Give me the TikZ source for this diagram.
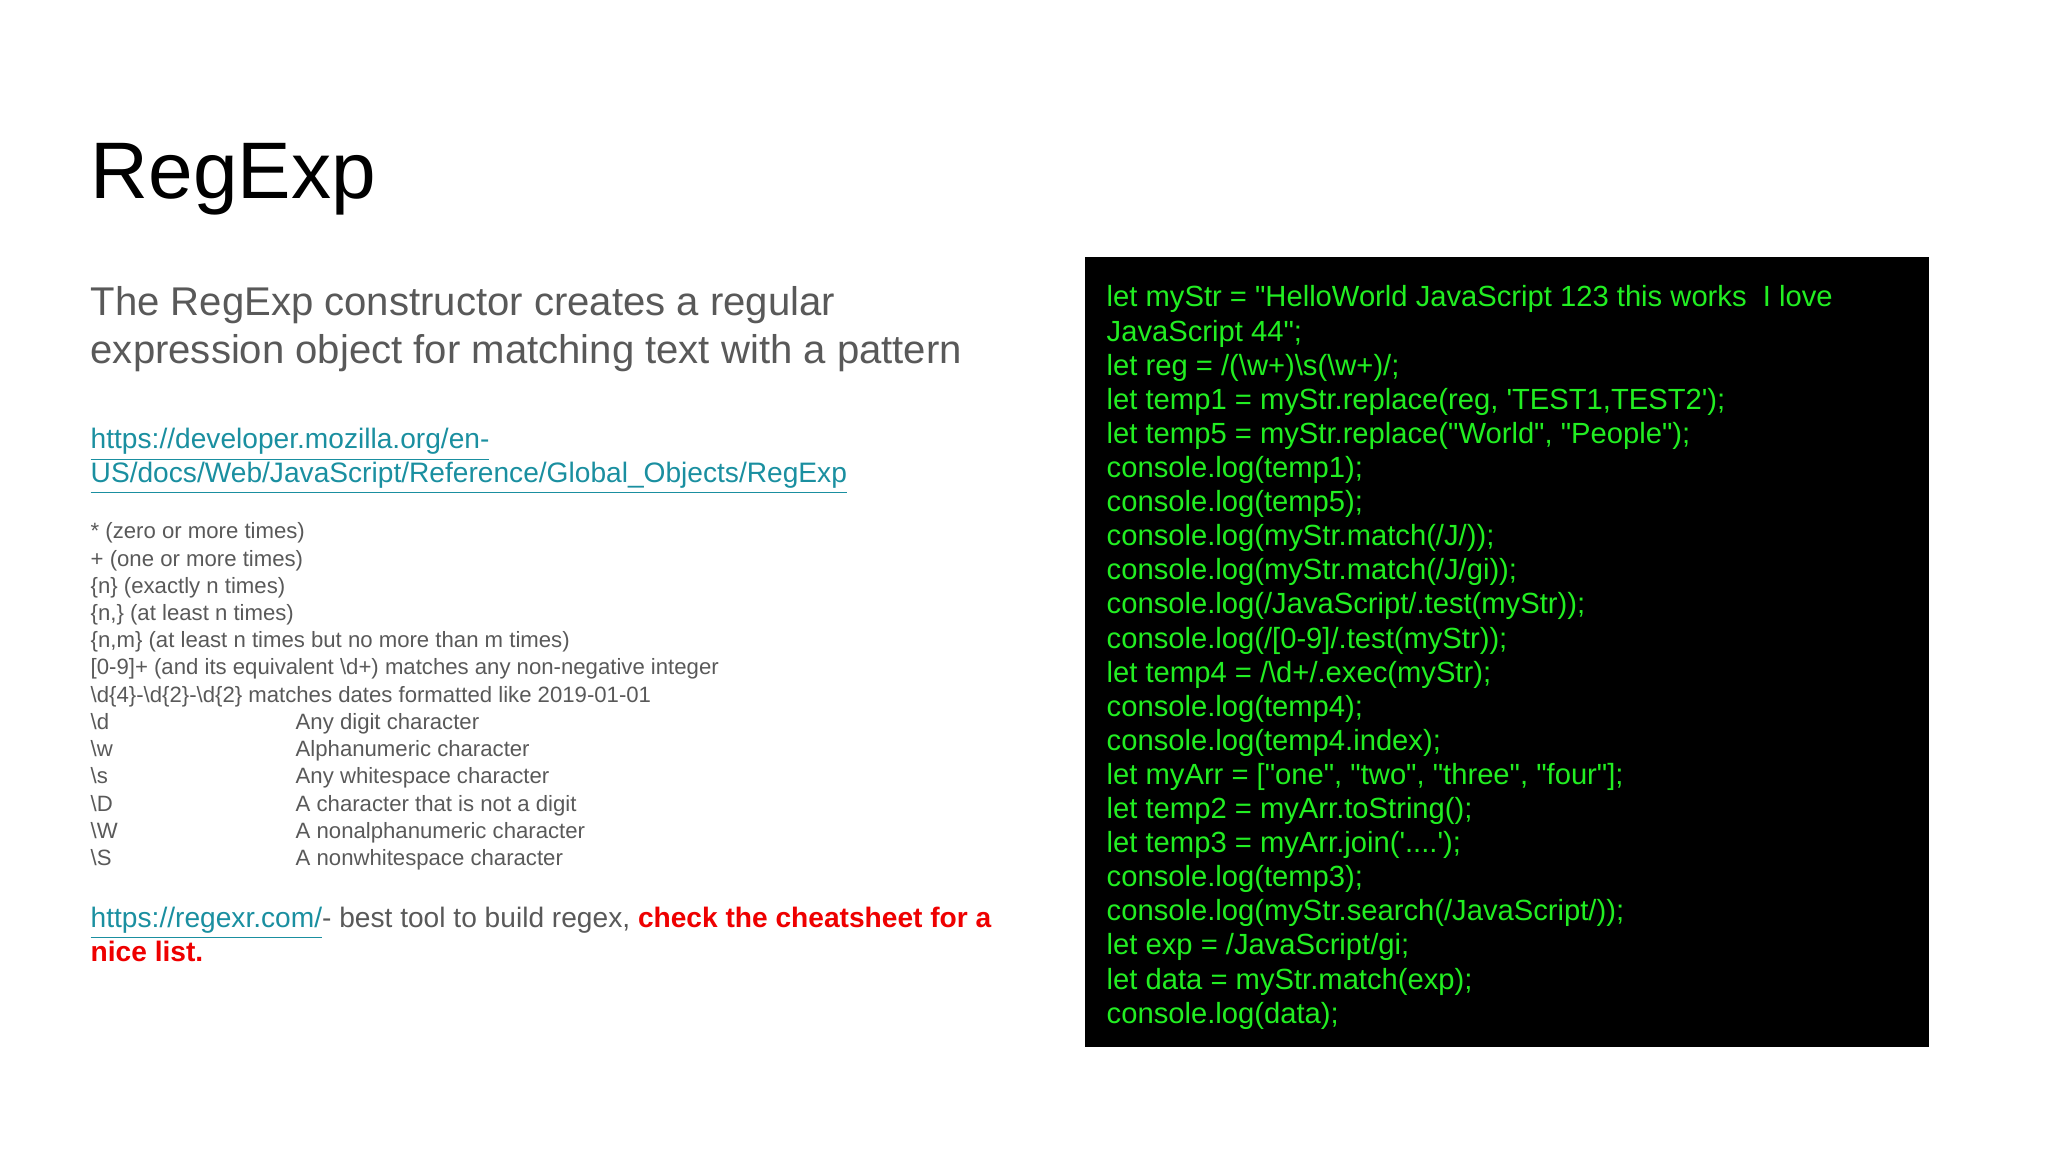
\documentclass[tikz,border=0pt]{standalone}
\usepackage{fontspec}
\newfontfamily\af{Liberation Sans}
\definecolor{gtxt}{HTML}{595959}
\definecolor{lnk}{HTML}{1A8FA0}
\definecolor{cg}{HTML}{22EE22}
\begin{document}
\begin{tikzpicture}[x=0.01cm,y=-0.01cm,
  t/.style={anchor=base west,inner sep=0pt,font=\af},
  lst/.style={t,text=gtxt,font=\af\fontsize{6.3}{7}\selectfont},
  cd/.style={t,text=cg,font=\af\fontsize{8.3}{9}\selectfont},
  lk/.style={t,text=lnk,font=\af\fontsize{8}{9}\selectfont}]
\useasboundingbox (0,0) rectangle (2048,1152);
\node[t,font=\af\fontsize{22.8}{26}\selectfont] (title) at (90,199) {RegExp};
\node[t,text=gtxt,font=\af\fontsize{11.4}{13}\selectfont] (s1) at (90,316) {The RegExp constructor creates a regular};
\node[t,text=gtxt,font=\af\fontsize{11.4}{13}\selectfont] (s2) at (90,364) {expression object for matching text with a pattern};
\node[lk] (l1) at (90,449) {\underline{https://developer.mozilla.org/en-}};
\node[lk] (l2) at (90,482) {\underline{US/docs/Web/JavaScript/Reference/Global\_Objects/RegExp}};
\foreach \i/\s in {0/{* (zero or more times)},1/{+ (one or more times)},2/{\{n\} (exactly n times)},3/{\{n,\} (at least n times)},4/{\{n,m\} (at least n times but no more than m times)},5/{[0-9]+ (and its equivalent \textbackslash d+) matches any non-negative integer},6/{\textbackslash d\{4\}-\textbackslash d\{2\}-\textbackslash d\{2\} matches dates formatted like 2019-01-01}}
  \node[lst] (a\i) at (90,{539+\i*27.2}) {\s};
\foreach \i/\k/\s in {7/d/{Any digit character},8/w/{Alphanumeric character},9/s/{Any whitespace character},10/D/{A character that is not a digit},11/W/{A nonalphanumeric character},12/S/{A nonwhitespace character}}{
  \node[lst] (a\i) at (90,{539+\i*27.2}) {\textbackslash \k};
  \node[lst] (b\i) at (295,{539+\i*27.2}) {\s};}
\node[lk] (r1) at (90,927) {\underline{https://regexr.com/}\textcolor{gtxt}{ - best tool to build regex, }\textcolor[HTML]{EE0000}{\bfseries check the cheatsheet for a}};
\node[t,text={rgb,255:red,238;green,0;blue,0},font=\af\bfseries\fontsize{8}{9}\selectfont] (r2) at (90,961) {nice list.};
\fill[black] (1085,257) rectangle (1929,1047);
\foreach \i/\s in {0/{let myStr = "HelloWorld JavaScript 123 this works~ I love},1/{JavaScript 44";},2/{let reg = /(\textbackslash w+)\textbackslash s(\textbackslash w+)/;},3/{let temp1 = myStr.replace(reg, 'TEST1,TEST2');},4/{let temp5 = myStr.replace("World", "People");},5/{console.log(temp1);},6/{console.log(temp5);},7/{console.log(myStr.match(/J/));},8/{console.log(myStr.match(/J/gi));},9/{console.log(/JavaScript/.test(myStr));},10/{console.log(/[0-9]/.test(myStr));},11/{let temp4 = /\textbackslash d+/.exec(myStr);},12/{console.log(temp4);},13/{console.log(temp4.index);},14/{let myArr = ["one", "two", "three", "four"];},15/{let temp2 = myArr.toString();},16/{let temp3 = myArr.join('....');},17/{console.log(temp3);},18/{console.log(myStr.search(/JavaScript/));},19/{let exp = /JavaScript/gi;},20/{let data = myStr.match(exp);},21/{console.log(data);}}
  \node[cd] (c\i) at (1106,{307+\i*34.1}) {\s};
\end{tikzpicture}
\end{document}
